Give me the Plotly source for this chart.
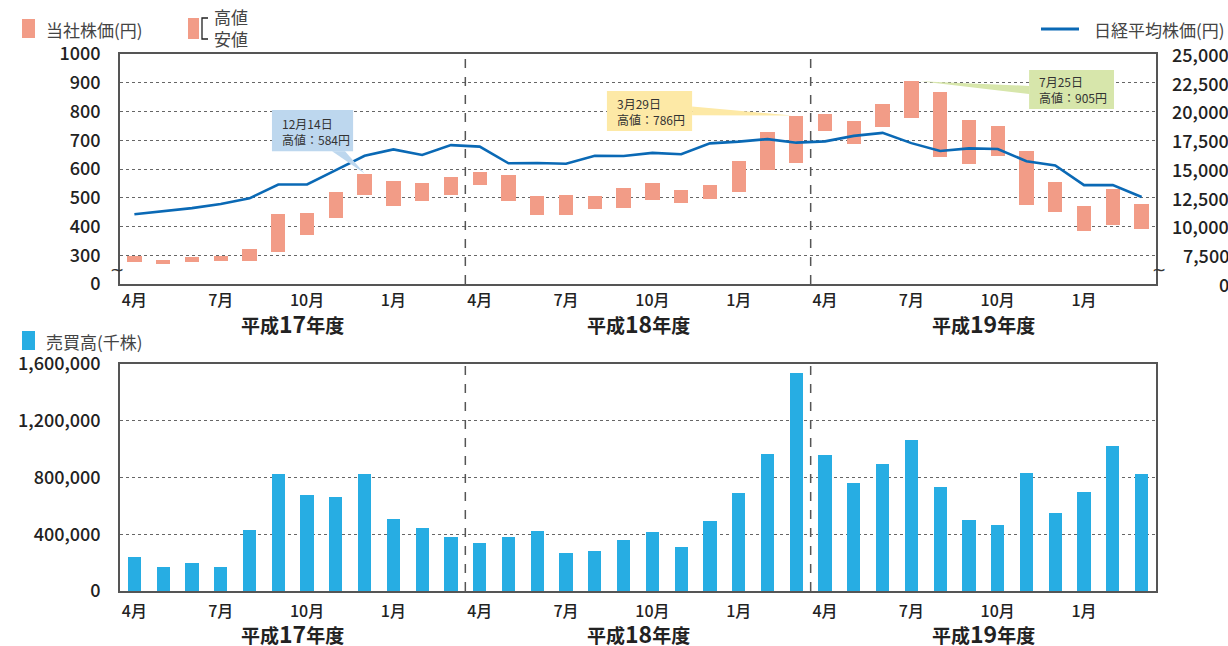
import plotly.graph_objects as go

# ---- data -------------------------------------------------------------
months = list(range(36))  # 平成17年4月 .. 平成20年3月
month_tick_vals = [0, 3, 6, 9, 12, 15, 18, 21, 24, 27, 30, 33]
month_tick_text = ["4月", "7月", "10月", "1月"] * 3
fiscal_years = ["平成17年度", "平成18年度", "平成19年度"]

price_high = [298, 283, 295, 299, 322, 443, 447, 520, 584, 558, 550, 572,
              590, 579, 506, 510, 506, 534, 551, 527, 544, 628, 729, 786,
              791, 767, 826, 905, 868, 770, 750, 663, 555, 471, 530, 478]
price_low = [275, 270, 277, 281, 281, 312, 370, 430, 511, 472, 490, 510,
             545, 489, 440, 440, 461, 464, 492, 482, 496, 520, 597, 621,
             732, 687, 746, 777, 642, 617, 645, 475, 450, 384, 405, 391]

nikkei = [11060, 11300, 11600, 11950, 12450, 13650, 13650, 14900, 16150, 16700, 16220, 17080,
          16950, 15500, 15520, 15460, 16150, 16130, 16400, 16280, 17230, 17380, 17600, 17290,
          17400, 17880, 18140, 17250, 16570, 16790, 16740, 15680, 15310, 13600, 13600, 12560]

volume = [238000, 167000, 195000, 167000, 428000, 824000, 675000, 661000, 824000, 506000, 442000, 379000,
          337000, 379000, 421000, 266000, 280000, 358000, 414000, 308000, 492000, 690000, 965000, 1536000,
          958000, 760000, 894000, 1064000, 732000, 499000, 464000, 831000, 548000, 697000, 1021000, 824000]

price_ticks = [200, 300, 400, 500, 600, 700, 800, 900, 1000]
price_tick_text = ["0", "300", "400", "500", "600", "700", "800", "900", "1000"]
nikkei_ticks = [5000, 7500, 10000, 12500, 15000, 17500, 20000, 22500, 25000]
nikkei_tick_text = ["0", "7,500", "10,000", "12,500", "15,000", "17,500", "20,000", "22,500", "25,000"]
volume_ticks = [0, 400000, 800000, 1200000, 1600000]
volume_tick_text = ["0", "400,000", "800,000", "1,200,000", "1,600,000"]

# callouts: (month index, label date)
callouts = [
    (8, "12月14日", "#bdd7ee"),
    (23, "3月29日", "#fde9a6"),
    (27, "7月25日", "#d7e6ab"),
]

# ---- styling ----------------------------------------------------------
W, H = 1228, 646
FONT = "Noto Sans CJK JP"
SALMON = "#f29c87"
BLUE_BAR = "#27ade3"
BLUE_LINE = "#0a69b5"
AXIS = "#555555"
TXT = "#222222"
TICKFONT = dict(family=FONT, size=18, color=TXT, weight=500)


def px(x):
    return x / W


def py(y):
    return 1 - y / H


x_dom = [px(120), px(1156)]
top_dom = [py(284), py(54)]
bot_dom = [py(591), py(364)]

fig = go.Figure()

fig.add_trace(go.Bar(
    x=months, y=[h - l for h, l in zip(price_high, price_low)], base=price_low,
    width=0.5, marker=dict(color=SALMON, line=dict(width=0)),
    xaxis="x", yaxis="y", hoverinfo="skip",
))
fig.add_trace(go.Scatter(
    x=months, y=nikkei, mode="lines", line=dict(color=BLUE_LINE, width=2.6),
    xaxis="x", yaxis="y2", hoverinfo="skip",
))
fig.add_trace(go.Bar(
    x=months, y=volume, width=0.46, marker=dict(color=BLUE_BAR, line=dict(width=0)),
    xaxis="x2", yaxis="y3", hoverinfo="skip",
))

xaxis_common = dict(
    domain=x_dom, range=[-0.5, 35.5], tickmode="array",
    tickvals=month_tick_vals, ticktext=month_tick_text,
    tickfont=dict(family=FONT, size=16, color=TXT, weight=500),
    showline=True, linecolor=AXIS, linewidth=1.6, mirror=True,
    showgrid=False, zeroline=False, ticks="", automargin=False,
)

fig.update_layout(
    width=W, height=H,
    margin=dict(l=0, r=0, t=0, b=0),
    paper_bgcolor="white", plot_bgcolor="white",
    showlegend=False, bargap=0,
    font=dict(family=FONT, color=TXT),
    xaxis=dict(anchor="y", ticklabelstandoff=1, **xaxis_common),
    xaxis2=dict(anchor="y3", ticklabelstandoff=5, **xaxis_common),
    yaxis=dict(
        domain=top_dom, range=[200, 1000], tickmode="array",
        tickvals=price_ticks, ticktext=price_tick_text, tickfont=TICKFONT,
        showline=True, linecolor=AXIS, linewidth=1.6, mirror=True,
        showgrid=True, gridcolor="#666666", griddash="dot", gridwidth=1,
        zeroline=False, ticks="", ticklabelstandoff=14, automargin=False,
    ),
    yaxis2=dict(
        overlaying="y", anchor="x", side="right",
        range=[5000, 25000], showticklabels=False,
        showline=False, showgrid=False, zeroline=False, ticks="",
        automargin=False,
    ),
    yaxis3=dict(
        domain=bot_dom, anchor="x2", range=[0, 1600000], tickmode="array",
        tickvals=volume_ticks, ticktext=volume_tick_text, tickfont=TICKFONT,
        showline=True, linecolor=AXIS, linewidth=1.6, mirror=True,
        showgrid=True, gridcolor="#666666", griddash="dot", gridwidth=1,
        zeroline=False, ticks="", ticklabelstandoff=14, automargin=False,
    ),
)

shapes = []
annotations = []

# right-hand Nikkei scale, right-aligned at the page edge
for val, label in zip(nikkei_ticks, nikkei_tick_text):
    annotations.append(dict(xref="paper", yref="y2", x=px(1231), y=val, text=label,
                            showarrow=False, xanchor="right", yanchor="middle",
                            font=TICKFONT))

# fiscal-year dividers on both panels
for xref, yref in (("x", "y domain"), ("x2", "y3 domain")):
    for xv in (11.5, 23.5):
        shapes.append(dict(type="line", xref=xref, yref=yref, x0=xv, x1=xv, y0=0, y1=1,
                           line=dict(color=AXIS, width=1.5, dash="dash")))

# fiscal-year labels under each panel
for i, label in enumerate(fiscal_years):
    head, num, tail = label[:2], label[2:4], label[4:]
    text = f"<b>{head}<span style='font-size:23px'>{num}</span>{tail}</b>"
    for xref, ypx in (("x", 323), ("x2", 633)):
        annotations.append(dict(xref=xref, yref="paper", x=5.5 + 12 * i, y=py(ypx),
                                text=text, showarrow=False, xanchor="center", yanchor="middle",
                                font=dict(family=FONT, size=19, color=TXT)))

# axis break marks
for xp in (117, 1159):
    annotations.append(dict(xref="paper", yref="paper", x=px(xp), y=py(270), text="~",
                            showarrow=False, xanchor="center", yanchor="middle",
                            font=dict(family="DejaVu Sans", size=17, color="#333333")))

LEG_FONT = dict(family=FONT, size=17, color="#444444")

# legend: company share price
shapes.append(dict(type="rect", xref="paper", yref="paper", x0=px(22), x1=px(35),
                   y0=py(38), y1=py(19), fillcolor=SALMON, line=dict(width=0)))
annotations.append(dict(xref="paper", yref="paper", x=px(44), y=py(30), text="当社株価(円)",
                        showarrow=False, xanchor="left", yanchor="middle", font=LEG_FONT))
# legend: high / low bracket
shapes.append(dict(type="rect", xref="paper", yref="paper", x0=px(188), x1=px(199),
                   y0=py(39), y1=py(18), fillcolor=SALMON, line=dict(width=0)))
shapes.append(dict(type="path", xref="paper", yref="paper",
                   path=f"M {px(208)},{py(18)} L {px(202)},{py(18)} L {px(202)},{py(39)} L {px(208)},{py(39)}",
                   line=dict(color="#222222", width=1.3)))
annotations.append(dict(xref="paper", yref="paper", x=px(212), y=py(17), text="高値",
                        showarrow=False, xanchor="left", yanchor="middle", font=LEG_FONT))
annotations.append(dict(xref="paper", yref="paper", x=px(212), y=py(38), text="安値",
                        showarrow=False, xanchor="left", yanchor="middle", font=LEG_FONT))
# legend: Nikkei average
shapes.append(dict(type="line", xref="paper", yref="paper", x0=px(1041), x1=px(1079),
                   y0=py(29), y1=py(29), line=dict(color=BLUE_LINE, width=3)))
annotations.append(dict(xref="paper", yref="paper", x=px(1092), y=py(30), text="日経平均株価(円)",
                        showarrow=False, xanchor="left", yanchor="middle", font=LEG_FONT))
# legend: trading volume
shapes.append(dict(type="rect", xref="paper", yref="paper", x0=px(22), x1=px(35),
                   y0=py(350), y1=py(331), fillcolor=BLUE_BAR, line=dict(width=0)))
annotations.append(dict(xref="paper", yref="paper", x=px(44), y=py(341), text="売買高(千株)",
                        showarrow=False, xanchor="left", yanchor="middle", font=LEG_FONT))

# callout boxes for the period highs (box corners / pointer base in month & price units)
box_geom = {
    8: dict(box=(4.78, 7.60, 662, 805), base=[(6.87, 662), (7.32, 662)], tip=8.0, text=(5.05, 730)),
    23: dict(box=(16.42, 19.38, 732, 871), base=[(19.38, 817), (19.38, 787)], tip=22.85, text=(16.70, 801)),
    27: dict(box=(31.09, 34.04, 809, 944), base=[(31.09, 889), (31.09, 861)], tip=27.3, text=(31.35, 875)),
}
for idx, date, color in callouts:
    g = box_geom[idx]
    hi = price_high[idx]
    x0, x1, y0, y1 = g["box"]
    (bx0, by0), (bx1, by1) = g["base"]
    tx = g["tip"]
    shapes.append(dict(type="path", xref="x", yref="y",
                       path=f"M {bx0},{by0} L {tx},{hi} L {bx1},{by1} Z",
                       fillcolor=color, line=dict(width=0), layer="above"))
    shapes.append(dict(type="rect", xref="x", yref="y", x0=x0, x1=x1, y0=y0, y1=y1,
                       fillcolor=color, line=dict(width=0), layer="above"))
    annotations.append(dict(xref="x", yref="y", x=g["text"][0], y=g["text"][1],
                            text=f"{date}<br>高値：{hi}円", showarrow=False,
                            xanchor="left", yanchor="middle", align="left",
                            font=dict(family=FONT, size=12, color="#333333")))

fig.update_layout(shapes=shapes, annotations=annotations)

fig.write_html("out.html")
